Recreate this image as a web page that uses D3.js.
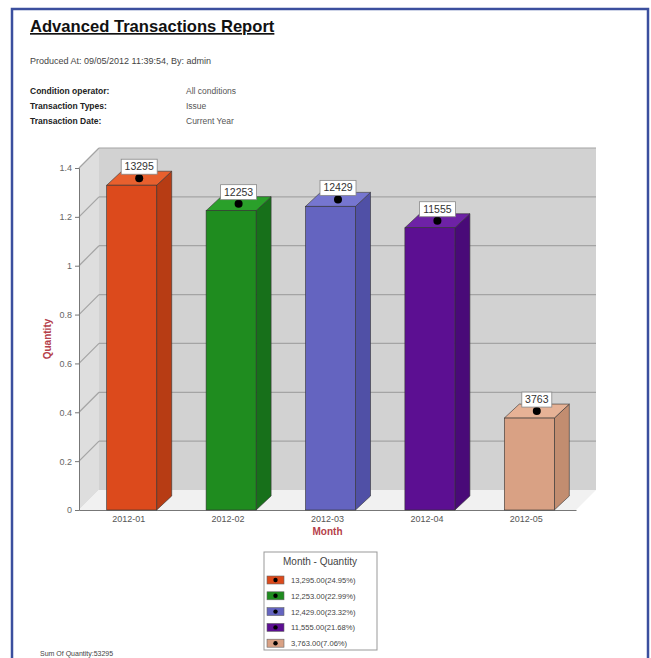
<!DOCTYPE html>
<html>
<head>
<meta charset="utf-8">
<script src="https://cdn.jsdelivr.net/npm/d3@7"></script>
<style>
  body { margin: 0; background: #fff; }
  svg { display: block; font-family: "Liberation Sans", Arial, sans-serif; }
</style>
</head>
<body>
<svg id="chart" width="651" height="658"></svg>
<script>
// data
const months = ['2012-01', '2012-02', '2012-03', '2012-04', '2012-05'];
const quantities = [13295, 12253, 12429, 11555, 3763];
const legendLabels = ['13,295.00(24.95%)', '12,253.00(22.99%)', '12,429.00(23.32%)', '11,555.00(21.68%)', '3,763.00(7.06%)'];
const yTicks = [0, 0.2, 0.4, 0.6, 0.8, 1, 1.2, 1.4];
const frontColors = ['#dc4a1c', '#1f8c1f', '#6464c0', '#5c0f92', '#d9a184'];
const sideColors = ['#b73c14', '#17701a', '#5050a6', '#490a78', '#c28d70'];
const topColors = ['#e8602e', '#2aa02a', '#7676d0', '#6e22a6', '#e6b296'];

const svg = d3.select('#chart');

// page frame
svg.append('rect')
    .attr('x', 12).attr('y', 9)
    .attr('width', 636).attr('height', 680)
    .attr('fill', 'none')
    .attr('stroke', '#3b4f9e')
    .attr('stroke-width', 2.5);

// header
svg.append('text')
    .attr('x', 30).attr('y', 32)
    .attr('font-size', 16.6).attr('font-weight', 'bold')
    .attr('fill', '#111')
    .attr('text-decoration', 'underline')
    .text('Advanced Transactions Report');

svg.append('text')
    .attr('x', 30).attr('y', 64)
    .attr('font-size', 9).attr('fill', '#444')
    .text('Produced At: 09/05/2012 11:39:54, By: admin');

const conditions = [['Condition operator:', 'All conditions'], ['Transaction Types:', 'Issue'], ['Transaction Date:', 'Current Year']];
conditions.forEach((c, i) => {
    svg.append('text').attr('x', 30).attr('y', 94 + i * 15)
        .attr('font-size', 8.5).attr('font-weight', 'bold').attr('fill', '#222').text(c[0]);
    svg.append('text').attr('x', 186).attr('y', 94 + i * 15)
        .attr('font-size', 8.5).attr('fill', '#555').text(c[1]);
});

// chart geometry
const left = 79, right = 576, bottom = 510;
const depth = 20;      // wall depth
const barDepth = 15;   // bar depth

const x = d3.scaleBand().domain(months).range([left, right]);
const y = d3.scaleLinear().domain([0, 1.4]).range([bottom, 168]);
const yTop = y(1.4);

// walls
const g = svg.append('g');
g.append('polygon') // left wall
    .attr('points', [[left, bottom], [left, yTop], [left + depth, yTop - depth], [left + depth, bottom - depth]].join(' '))
    .attr('fill', '#dedede');
g.append('rect') // back wall
    .attr('x', left + depth).attr('y', yTop - depth)
    .attr('width', right - left).attr('height', bottom - yTop)
    .attr('fill', '#d2d2d2');
g.append('polygon') // floor
    .attr('points', [[left, bottom], [right, bottom], [right + depth, bottom - depth], [left + depth, bottom - depth]].join(' '))
    .attr('fill', '#f1f1f1');

// gridlines
yTicks.filter(t => t > 0).forEach(t => {
    g.append('line')
        .attr('x1', left + depth).attr('x2', right + depth)
        .attr('y1', y(t) - depth).attr('y2', y(t) - depth)
        .attr('stroke', '#a4a4a4').attr('stroke-width', 1.2);
    g.append('line')
        .attr('x1', left).attr('x2', left + depth)
        .attr('y1', y(t)).attr('y2', y(t) - depth)
        .attr('stroke', '#a4a4a4').attr('stroke-width', 1.2);
});

// axes
const yAxis = d3.axisLeft(y).tickValues(yTicks).tickSize(4).tickFormat(d3.format('~g'));
const ya = svg.append('g').attr('transform', `translate(${left},0)`).call(yAxis);
ya.select('.domain').attr('stroke', '#777');
ya.selectAll('.tick line').attr('stroke', '#777');
ya.selectAll('.tick text').attr('font-size', 9).attr('fill', '#666')
    .attr('font-family', '"Liberation Sans", Arial, sans-serif');

const xAxis = d3.axisBottom(x).tickSize(0).tickPadding(6);
const xa = svg.append('g').attr('transform', `translate(0,${bottom})`).call(xAxis);
xa.select('.domain').attr('stroke', '#777').attr('stroke-width', 1.2);
xa.selectAll('.tick text').attr('font-size', 9).attr('fill', '#555')
    .attr('font-family', '"Liberation Sans", Arial, sans-serif');

// axis titles
svg.append('text')
    .attr('transform', `translate(51,${(bottom + yTop) / 2}) rotate(-90)`)
    .attr('text-anchor', 'middle')
    .attr('font-size', 10).attr('font-weight', 'bold').attr('fill', '#b5404a')
    .text('Quantity');
svg.append('text')
    .attr('x', (left + right) / 2).attr('y', 535)
    .attr('text-anchor', 'middle')
    .attr('font-size', 10).attr('font-weight', 'bold').attr('fill', '#b5404a')
    .text('Month');

// bars
const barW = 50;
const bars = svg.append('g').selectAll('g.bar')
    .data(months.map((m, i) => ({ m, v: quantities[i], i })))
    .join('g').attr('class', 'bar');

bars.each(function (d) {
    const sel = d3.select(this);
    const x0 = x(d.m) + x.bandwidth() / 2 - barW / 2 + 3;
    const x1 = x0 + barW;
    const yv = y(d.v / 10000);
    const dx = barDepth, dy = barDepth - 1;
    sel.append('polygon') // side
        .attr('points', [[x1, bottom], [x1, yv], [x1 + dx, yv - dy], [x1 + dx, bottom - dy]].join(' '))
        .attr('fill', sideColors[d.i]).attr('stroke', '#333').attr('stroke-width', 0.6);
    sel.append('polygon') // top
        .attr('points', [[x0, yv], [x1, yv], [x1 + dx, yv - dy], [x0 + dx, yv - dy]].join(' '))
        .attr('fill', topColors[d.i]).attr('stroke', '#333').attr('stroke-width', 0.6);
    sel.append('rect') // front
        .attr('x', x0).attr('y', yv)
        .attr('width', barW).attr('height', bottom - yv)
        .attr('fill', frontColors[d.i]).attr('stroke', '#333').attr('stroke-width', 0.6);

    // value marker and label
    const cx = (x0 + x1 + dx) / 2, cy = yv - dy / 2;
    sel.append('circle').attr('cx', cx).attr('cy', cy).attr('r', 4).attr('fill', '#000');
    const label = String(d.v);
    const w = label.length * 6 + 6;
    sel.append('rect')
        .attr('x', cx - w / 2).attr('y', cy - 19)
        .attr('width', w).attr('height', 15)
        .attr('fill', '#fff').attr('stroke', '#888').attr('stroke-width', 0.8);
    sel.append('text')
        .attr('x', cx).attr('y', cy - 8)
        .attr('text-anchor', 'middle')
        .attr('font-size', 10.5).attr('fill', '#333')
        .text(label);
});

// legend
const lg = svg.append('g');
lg.append('rect')
    .attr('x', 264).attr('y', 552)
    .attr('width', 113).attr('height', 98)
    .attr('fill', '#fff').attr('stroke', '#999');
lg.append('text')
    .attr('x', 320).attr('y', 565)
    .attr('text-anchor', 'middle')
    .attr('font-size', 10).attr('fill', '#444')
    .text('Month - Quantity');
legendLabels.forEach((t, i) => {
    const ly = 580 + i * 15.8;
    lg.append('rect')
        .attr('x', 267).attr('y', ly - 4)
        .attr('width', 17).attr('height', 8)
        .attr('fill', frontColors[i]).attr('stroke', '#666').attr('stroke-width', 0.6);
    lg.append('circle').attr('cx', 275.5).attr('cy', ly).attr('r', 2.2).attr('fill', '#000');
    lg.append('text')
        .attr('x', 291).attr('y', ly + 3)
        .attr('font-size', 7.6).attr('fill', '#444')
        .text(t);
});

// footer at the bottom edge of the page
svg.append('text')
    .attr('x', 40).attr('y', 656)
    .attr('font-size', 7).attr('fill', '#444')
    .text('Sum Of Quantity:53295');
</script>
</body>
</html>
